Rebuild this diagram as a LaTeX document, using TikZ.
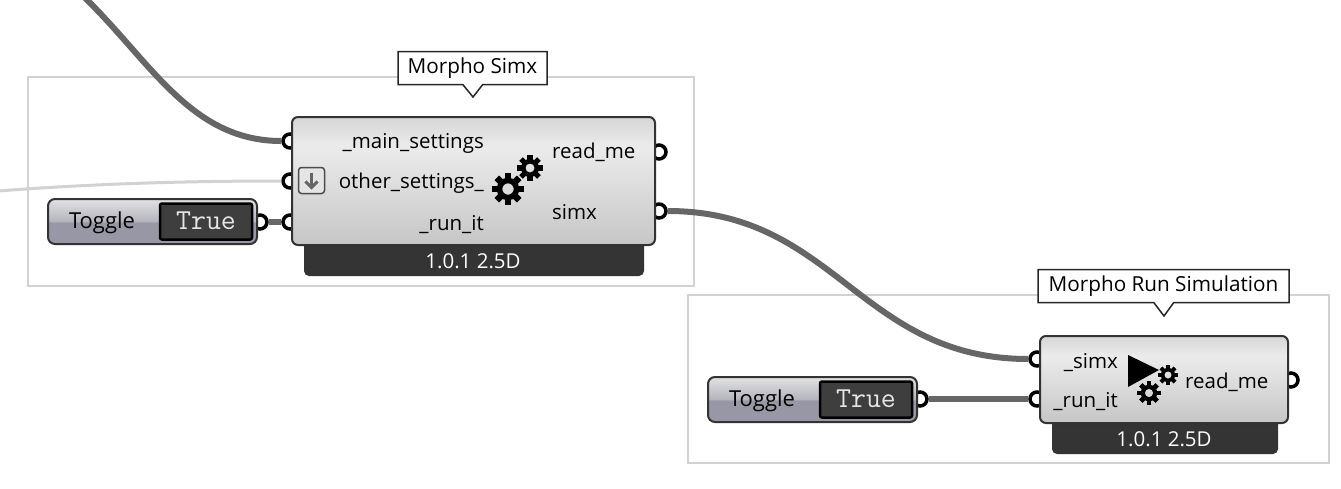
\documentclass[tikz,border=0pt]{standalone}
\usepackage{fontspec}
\setmainfont{Open Sans}
\usetikzlibrary{shapes.callouts,arrows.meta}

\definecolor{bodytop}{HTML}{D6D6D6}
\definecolor{bodyhigh}{HTML}{EAEAEA}
\definecolor{bodylow}{HTML}{C6C6C6}
\definecolor{togglehigh}{HTML}{E2E2E4}
\definecolor{togglemid}{HTML}{B4B4BC}
\definecolor{togglelow}{HTML}{9797A6}
\definecolor{footdark}{HTML}{343434}
\definecolor{wiregray}{HTML}{666666}
\definecolor{groupgray}{HTML}{D2D2D2}
\definecolor{buttondark}{HTML}{3E3E3E}

\pgfdeclareverticalshading{bodyshade}{100bp}{color(0bp)=(bodylow); color(25bp)=(bodylow); color(62bp)=(bodyhigh); color(64bp)=(bodyhigh); color(75bp)=(bodytop); color(100bp)=(bodytop)}
\pgfdeclareverticalshading{toggleshade}{100bp}{color(0bp)=(togglelow); color(49bp)=(togglelow); color(50bp)=(togglemid); color(75bp)=(togglehigh); color(100bp)=(togglehigh)}

\tikzset{
	groupbox/.style={draw=groupgray, line width=2pt, fill=white, inner sep=0pt},
	compbody/.style={draw=black!80, line width=2pt, rounded corners=6pt, shading=bodyshade, inner sep=0pt},
	compfoot/.style={fill=footdark, rounded corners=5pt, inner sep=0pt},
	porthole/.style={circle, draw=black, line width=3.5pt, fill=white, minimum size=14pt, inner sep=0pt},
	wire/.style={wiregray, line width=6pt},
	namebubble/.style={rectangle callout, draw=black!85, line width=1.5pt, fill=white, inner sep=0pt, minimum height=33pt, callout pointer width=20pt, font=\fontsize{20.7}{24}\selectfont},
	togglebody/.style={draw=black!80, line width=2pt, rounded corners=7pt, shading=toggleshade, minimum width=209pt, minimum height=45pt, inner sep=0pt},
	togglebutton/.style={draw=black, line width=2.5pt, fill=buttondark, rounded corners=2pt, minimum width=92pt, minimum height=36pt, inner sep=0pt, text=white!90!black, font=\ttfamily\fontsize{29}{32}\selectfont},
	portlabel/.style={inner sep=0pt, yshift=-2.5pt, font=\fontsize{20.5}{24}\selectfont},
	togglelabel/.style={inner sep=0pt, yshift=-3pt, font=\fontsize{22}{26}\selectfont},
	gearicon/.pic={
		\fill[black, even odd rule] (0,0) circle (7.5) (0,0) circle (3.8);
		\foreach \a in {0,45,...,315}
			\fill[black, rotate=\a] (-2.2,-10.5) rectangle (2.2,-6.5);
	}
}

\begin{document}
\begin{tikzpicture}[x=1pt, y=-1pt]
	\useasboundingbox (0,0) rectangle (1341,488);
	% group frames
	\node[groupbox, minimum width=666pt, minimum height=209pt] (simxgroup) at (361,181.5) {};
	\node[groupbox, minimum width=641pt, minimum height=168pt] (rungroup) at (1008.5,379) {};

	% ports sit under the bodies
	\node[porthole] (simxmain) at (290,141) {};
	\node[porthole] (simxother) at (290,181) {};
	\node[porthole] (simxrun) at (290,222) {};
	\node[porthole] (simxread) at (659,152) {};
	\node[porthole] (simxout) at (659,211) {};
	\node[porthole] (runsimx) at (1037,359) {};
	\node[porthole] (runrun) at (1037,399) {};
	\node[porthole] (runread) at (1291,380) {};
	\node[porthole] (togglea) at (260,222) {};
	\node[porthole] (toggleb) at (920,399) {};

	% wires
	\coordinate (mainfree) at (82,-5);
	\coordinate (otherfree) at (-2,191);
	\draw[wire] (simxmain.west) .. controls (190,141) and (150,60) .. (mainfree);
	\draw[groupgray, line width=3pt] (simxother.west) .. controls (180,181) and (90,184) .. (otherfree);
	\draw[wire] (togglea.east) -- (simxrun.west);
	\draw[wire] (simxout.east) .. controls (835,211) and (860,359) .. (runsimx.west);
	\draw[wire] (toggleb.east) -- (runrun.west);

	% first component
	\node[compfoot, minimum width=340pt, minimum height=46pt] (simxfoot) at (474,253) {};
	\node[compbody, minimum width=363pt, minimum height=128pt] (simxbody) at (473.5,181) {};
	\node[text=white, portlabel] (simxver) at (473,259) {1.0.1 2.5D};
	\node[portlabel, anchor=east] (simxlabmain) at (484,141) {\_main\_settings};
	\node[portlabel, anchor=east] (simxlabother) at (484,181) {other\_settings\_};
	\node[portlabel, anchor=east] (simxlabrun) at (484,222) {\_run\_it};
	\node[portlabel, anchor=west] (simxlabread) at (552,150) {read\_me};
	\node[portlabel, anchor=west] (simxlabout) at (552,210) {simx};
	\pic at (508,189) [scale=1.5] {gearicon};
	\pic at (530,168) [scale=1.2] {gearicon};
	\node[draw=black!70, line width=1.5pt, fill=black!10, rounded corners=3pt, minimum size=26pt, inner sep=0pt] (simxbutton) at (311.5,180.5) {};
	\draw[black!60, line width=3pt, -{Straight Barb[length=6pt,width=12pt]}] ([yshift=8pt]simxbutton.center) -- ([yshift=-9pt]simxbutton.center);

	% second component
	\node[compfoot, minimum width=226pt, minimum height=46pt] (runfoot) at (1165,431) {};
	\node[compbody, minimum width=248pt, minimum height=87pt] (runbody) at (1164,379.5) {};
	\node[text=white, portlabel] (runver) at (1164,437) {1.0.1 2.5D};
	\node[portlabel, anchor=east] (runlabsimx) at (1118,360) {\_simx};
	\node[portlabel, anchor=east] (runlabrun) at (1118,399) {\_run\_it};
	\node[portlabel, anchor=west] (runlabread) at (1185,380) {read\_me};
	\fill[black] (1128,355) -- (1159,370) -- (1128,387) -- cycle;
	\pic at (1168,375) [scale=.95] {gearicon};
	\pic at (1149,393) [scale=1.1] {gearicon};

	% toggles
	\node[togglebody] (toggleabody) at (152.5,221.5) {};
	\node[togglelabel] (toggleatext) at (102,220) {Toggle};
	\node[togglebutton] (toggleakey) at (206,221.5) {\raisebox{2pt}{True}};
	\node[togglebody] (togglebbody) at (812.5,399.5) {};
	\node[togglelabel] (togglebtext) at (762,398) {Toggle};
	\node[togglebutton] (togglebkey) at (866,399.5) {\raisebox{2pt}{True}};

	% name bubbles
	\node[namebubble, minimum width=149pt, callout absolute pointer={(473,97)}] (simxname) at (472.5,68) {\raisebox{-2.5pt}{Morpho Simx}};
	\node[namebubble, minimum width=251pt, callout absolute pointer={(1164,316)}] (runname) at (1163.5,286) {\raisebox{-2.5pt}{Morpho Run Simulation}};
\end{tikzpicture}
\end{document}
